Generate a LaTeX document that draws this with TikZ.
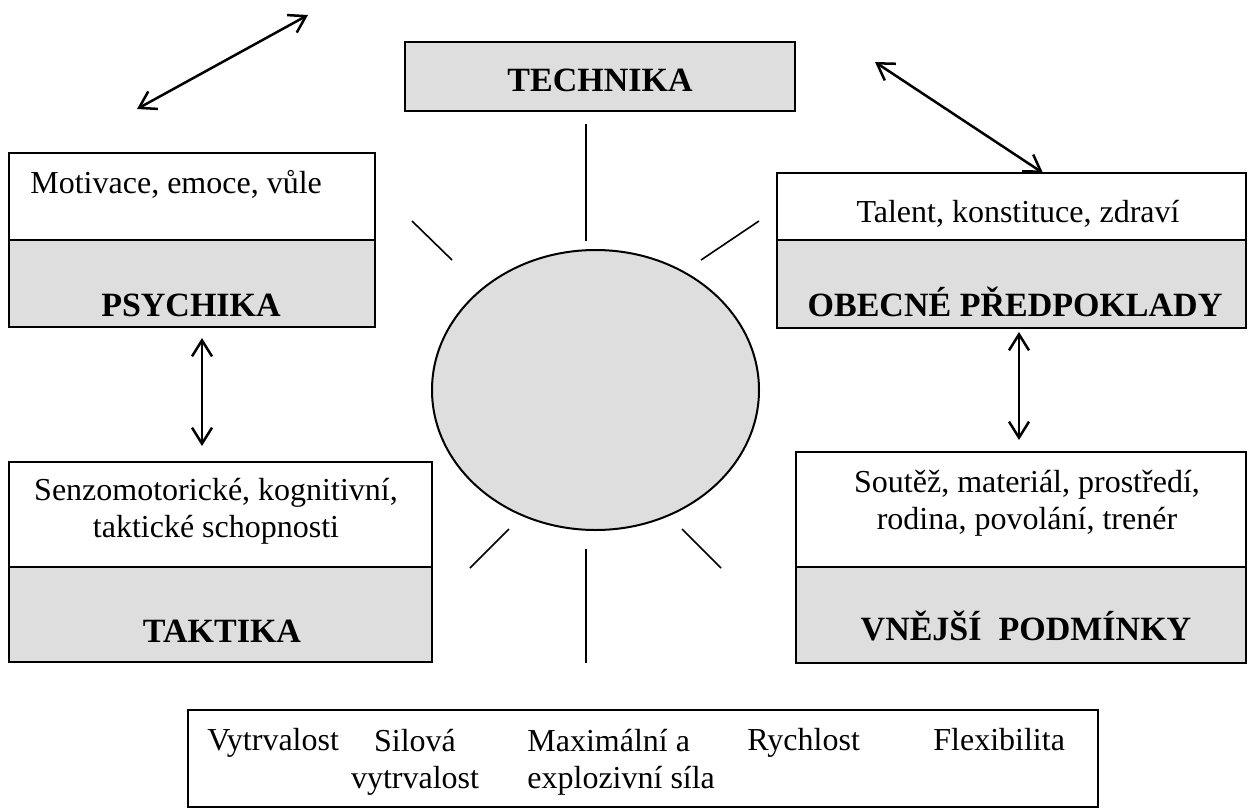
\documentclass[tikz,border=0pt]{standalone}
\usepackage{fontspec}
\setmainfont{Liberation Serif}
\usetikzlibrary{arrows.meta,shapes.geometric}
\definecolor{panel}{HTML}{DEDEDE}
\tikzset{cell/.style={draw,line width=1pt,anchor=north west,inner sep=0pt,outer sep=0pt},head/.style={cell,fill=panel},txt/.style={anchor=base,inner sep=0pt,align=center,font=\fontsize{16}{18.5}\selectfont},heading/.style={anchor=base,inner sep=0pt,font=\fontsize{17}{20}\selectfont\bfseries},ray/.style={line width=0.8pt},link/.style={{Straight Barb[length=8pt,width=10pt]}-{Straight Barb[length=8pt,width=10pt]},line width=1.25pt}}
\begin{document}
\begin{tikzpicture}[x=0.5pt,y=-0.5pt]
\useasboundingbox (0,0) rectangle (1249,810);
\node[head,minimum width=195pt,minimum height=34.5pt](techBox) at (405,42){};
\node[heading](tech) at (600,91){TECHNIKA};
\node[cell,minimum width=183pt,minimum height=43.5pt](psyTop) at (9,153){};
\node[head,minimum width=183pt,minimum height=43.5pt](psyBox) at (9,240){};
\node[txt,anchor=base west](psyText) at (30,193){Motivace, emoce, vůle};
\node[heading](psy) at (191,316){PSYCHIKA};
\node[cell,minimum width=234.5pt,minimum height=33.5pt](obTop) at (777,173){};
\node[head,minimum width=234.5pt,minimum height=44pt](obBox) at (777,240){};
\node[txt](obText) at (1018,222){Talent, konstituce, zdraví};
\node[heading](ob) at (1015,316){OBECNÉ PŘEDPOKLADY};
\node[cell,minimum width=211.5pt,minimum height=52.5pt](takTop) at (9,462){};
\node[head,minimum width=211.5pt,minimum height=47.5pt](takBox) at (9,567){};
\node[txt](takText) at (216,537){Senzomotorické, kognitivní,\\taktické schopnosti};
\node[heading](tak) at (222,642){TAKTIKA};
\node[cell,minimum width=225pt,minimum height=57.5pt](extTop) at (796,452){};
\node[head,minimum width=225pt,minimum height=48pt](extBox) at (796,567){};
\node[txt](extText) at (1027,529){Soutěž, materiál, prostředí,\\rodina, povolání, trenér};
\node[heading](ext) at (1026,640){VNĚJŠÍ\ \ PODMÍNKY};
\node[ellipse,draw,line width=1pt,fill=panel,inner sep=0pt,minimum width=163.5pt,minimum height=140pt](core) at (595.5,390){};
\node[cell,minimum width=455pt,minimum height=48.5pt](abil) at (188,710){};
\node[txt,anchor=base west](endur) at (207,750){Vytrvalost};
\node[txt](strEndur) at (415,788){Silová\\vytrvalost};
\node[txt,anchor=base west,align=left](maxStr) at (527,788){Maximální a\\explozivní síla};
\node[txt,anchor=base west](speed) at (747,750){Rychlost};
\node[txt,anchor=base west](flex) at (933,750){Flexibilita};
\draw[ray](586,124)--(586,241);\draw[ray](586,549)--(586,663);
\draw[ray](412,221)--(452,260);\draw[ray](759,221)--(701,260);
\draw[ray](509,529)--(470,568);\draw[ray](682,529)--(721,568);
\coordinate(psyEnd) at (202,338);\coordinate(takEnd) at (202,446);
\coordinate(obEnd) at (1019,332);\coordinate(extEnd) at (1019,440);
\coordinate(psyCorner) at (137,109);\coordinate(techLeft) at (308,15);
\coordinate(techRight) at (875,62);\coordinate(obEdge) at (1043,173);
\draw[link](psyEnd)--(takEnd);\draw[link](obEnd)--(extEnd);
\draw[link](psyCorner)--(techLeft);\draw[link](techRight)--(obEdge);
\end{tikzpicture}
\end{document}
